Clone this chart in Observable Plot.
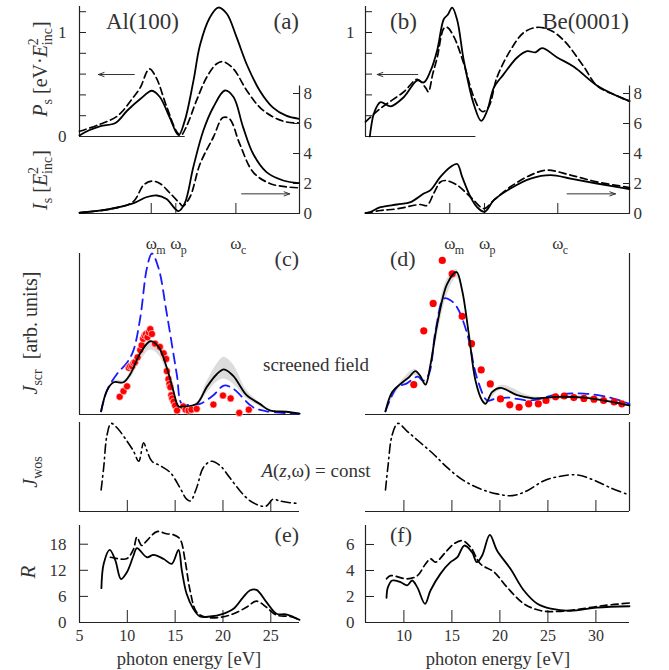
<!DOCTYPE html>
<html><head><meta charset="utf-8">
<script src="https://cdn.jsdelivr.net/npm/d3@7"></script>
<script src="https://cdn.jsdelivr.net/npm/@observablehq/plot@0.6"></script>
<style>
body{margin:0;background:#fff}
#chart{position:relative;width:669px;height:670px;font-family:"Liberation Serif",serif}
</style>
</head><body><div id="chart"></div>
<script>
// ---------------- DATA ----------------
// (a) Al(100): P_s solid / dashed
const pAlSolidX = [5.0, 6.0, 7.2, 8.75, 10.0, 11.35, 12.57, 13.4, 14.4, 15.35, 16.0, 16.9, 17.6, 18.6, 19.5, 20.4, 21.4, 22.5, 23.85, 25.2, 26.6, 27.95];
const pAlSolidY = [0.01, 0.06, 0.1, 0.13, 0.25, 0.36, 0.44, 0.38, 0.19, 0.013, 0.15, 0.53, 0.88, 1.14, 1.24, 1.18, 0.96, 0.69, 0.44, 0.28, 0.2, 0.17];
const pAlDashX = [5.0, 7.2, 9.0, 10.65, 11.35, 12.3, 13.0, 14.1, 15.2, 15.6, 16.2, 17.25, 18.3, 19.35, 20.0, 21.1, 22.5, 23.85, 25.2, 26.6, 27.95];
const pAlDashY = [0.05, 0.12, 0.2, 0.38, 0.47, 0.65, 0.57, 0.29, 0.04, 0.01, 0.1, 0.35, 0.57, 0.7, 0.72, 0.65, 0.44, 0.28, 0.19, 0.14, 0.13];
// (a) Al(100): I_s solid / dashed
const iAlSolidX = [5.0, 6.5, 8.2, 10.6, 12.05, 13.1, 14.1, 15.35, 16.0, 16.9, 17.95, 19.0, 20.2, 21.1, 22.1, 23.15, 24.55, 26.3, 27.95];
const iAlSolidY = [0.05, 0.15, 0.3, 0.67, 1.1, 1.2, 0.96, 0.16, 0.67, 3.1, 5.53, 7.1, 8.2, 7.76, 5.76, 3.98, 2.76, 2.2, 2.02];
const iAlDashX = [5.0, 8.2, 10.6, 11.7, 12.57, 13.4, 14.4, 15.5, 15.8, 16.55, 17.6, 19.0, 20.0, 20.7, 21.75, 23.15, 24.9, 26.6, 27.95];
const iAlDashY = [0.05, 0.3, 0.78, 1.9, 2.16, 2.0, 1.4, 0.67, 0.5, 1.1, 3.3, 5.1, 6.4, 6.3, 4.64, 2.76, 2.0, 1.78, 1.71];
// (b) Be(0001): P_s
const pBeSolidX = [6.45, 6.6, 6.87, 7.56, 8.6, 10.0, 11.4, 12.07, 12.77, 13.47, 14.16, 14.57, 15.03, 15.55, 16.24, 17.28, 18.05, 18.68, 19.37, 20.4, 21.8, 22.84, 23.7, 24.4, 25.97, 27.7, 30.1, 32.2, 33.5];
const pBeSolidY = [0, 0.1, 0.22, 0.33, 0.29, 0.38, 0.54, 0.52, 0.63, 0.83, 1.13, 1.17, 1.24, 1.12, 0.73, 0.31, 0.15, 0.25, 0.47, 0.6, 0.76, 0.82, 0.81, 0.85, 0.76, 0.67, 0.49, 0.39, 0.34];
const pBeDashX = [6.0, 7.56, 10.0, 11.4, 12.25, 12.55, 13.0, 13.47, 14.16, 14.5, 15.2, 16.24, 17.28, 18.15, 18.8, 19.7, 21.1, 22.5, 23.9, 25.3, 26.7, 28.75, 30.1, 32.2, 33.5];
const pBeDashY = [0.14, 0.27, 0.43, 0.55, 0.47, 0.43, 0.6, 0.76, 1.04, 1.05, 0.96, 0.7, 0.38, 0.24, 0.28, 0.57, 0.83, 1.0, 1.05, 1.02, 0.92, 0.67, 0.49, 0.39, 0.34];
// (b) Be(0001): I_s
const iBeSolidX = [6.0, 6.5, 7.56, 9.3, 10.7, 12.07, 12.77, 13.8, 14.85, 15.55, 16.07, 16.94, 17.6, 18.4, 19.37, 21.1, 23.2, 25.3, 27.35, 30.1, 33.5];
const iBeSolidY = [0.02, 0.1, 0.42, 0.6, 0.76, 1.33, 1.56, 2.44, 3.1, 3.3, 2.44, 1.1, 0.44, 0.11, 0.89, 1.67, 2.33, 2.56, 2.33, 2.0, 1.62];
const iBeDashX = [6.0, 7.56, 9.3, 11.7, 12.4, 13.1, 13.8, 14.33, 15.55, 16.94, 18.35, 19.37, 21.1, 23.2, 24.9, 27.35, 30.1, 33.5];
const iBeDashY = [0.02, 0.2, 0.31, 0.6, 0.53, 1.33, 2.1, 2.2, 1.89, 1.1, 0.33, 0.89, 1.78, 2.56, 2.89, 2.56, 2.11, 1.73];
// characteristic energies (tick positions)
const omegaNames = ["m", "p", "c"];
const omegaAl = [12.5, 15.07, 21.35];
const omegaBe = [14.78, 18.4, 26.03];

// (c) Al J_scr
const jAlSolidX = [7.26, 7.88, 8.57, 9.6, 10.3, 11.35, 12.4, 13.26, 14.13, 14.8, 15.35, 15.8, 17.25, 18.3, 19.35, 20.1, 21.07, 22.47, 23.85, 24.9, 26.6, 28];
const jAlSolidY = [0.02, 0.15, 0.2, 0.2, 0.25, 0.38, 0.455, 0.42, 0.29, 0.15, 0.05, 0.05, 0.066, 0.17, 0.25, 0.28, 0.24, 0.12, 0.066, 0.025, 0.017, 0.005];
const jAlBlueX = [7.26, 7.88, 8.9, 10.0, 10.65, 11.35, 12.05, 12.57, 13.26, 14.13, 15.17, 15.7, 16.5, 17.6, 19.0, 20.1, 21.07, 23.15, 24.55, 28];
const jAlBlueY = [0.02, 0.15, 0.25, 0.325, 0.4, 0.6, 0.91, 1.0, 0.91, 0.625, 0.25, 0.066, 0.06, 0.066, 0.12, 0.18, 0.16, 0.045, 0.02, 0.005];
const jAlBandX = [7.26, 8.57, 9.6, 10.3, 11.35, 12.4, 13.26, 14.13, 14.8, 15.35, 17.25, 18.3, 19.35, 20.1, 21.07, 22.47, 23.85, 24.9, 28];
const jAlBandLo = [0.02, 0.19, 0.19, 0.22, 0.33, 0.4, 0.37, 0.26, 0.13, 0.04, 0.05, 0.13, 0.2, 0.22, 0.19, 0.1, 0.05, 0.02, 0.005];
const jAlBandHi = [0.02, 0.21, 0.21, 0.26, 0.39, 0.46, 0.43, 0.3, 0.16, 0.055, 0.075, 0.2, 0.31, 0.355, 0.31, 0.15, 0.075, 0.03, 0.005];
const jAlExpX = [9.2, 9.6, 9.97, 10.15, 10.3, 10.5, 10.65, 10.8, 11.07, 11.35, 11.5, 11.65, 11.8, 11.95, 12.1, 12.25, 12.4, 12.57, 12.9, 13.4, 13.8, 14.06, 14.13, 14.3, 14.4, 14.5, 14.6, 14.7, 14.85, 15.0, 15.2, 15.85, 16.1, 16.4, 16.7, 17.25, 19.0, 20.0, 20.8, 21.7, 22.7];
const jAlExpY = [0.11, 0.145, 0.175, 0.29, 0.3, 0.3, 0.32, 0.325, 0.355, 0.4, 0.43, 0.47, 0.49, 0.5, 0.48, 0.51, 0.53, 0.5, 0.44, 0.42, 0.38, 0.345, 0.27, 0.22, 0.19, 0.17, 0.12, 0.1, 0.08, 0.056, 0.025, 0.05, 0.03, 0.025, 0.03, 0.035, 0.062, 0.118, 0.1, 0.01, 0.03];

// (d) Be J_scr
const jBeSolidX = [8.08, 8.78, 9.65, 10.5, 11.2, 11.7, 12.25, 12.77, 13.47, 14.5, 15.48, 16.07, 16.76, 17.46, 18.15, 18.5, 19.2, 20.06, 21.8, 23.5, 25.97, 28.75, 31.5, 33.5];
const jBeSolidY = [0.02, 0.14, 0.19, 0.23, 0.27, 0.24, 0.185, 0.31, 0.56, 0.81, 0.885, 0.77, 0.5, 0.21, 0.087, 0.066, 0.14, 0.165, 0.12, 0.1, 0.11, 0.105, 0.08, 0.056];
const jBeBlueX = [8.08, 9.3, 10.2, 11.45, 12.0, 12.6, 13.3, 14.16, 14.85, 15.55, 16.6, 17.6, 18.68, 19.37, 20.76, 23.2, 25.97, 28.75, 31.5, 33.5];
const jBeBlueY = [0.02, 0.17, 0.19, 0.235, 0.21, 0.25, 0.52, 0.72, 0.71, 0.665, 0.5, 0.23, 0.087, 0.095, 0.105, 0.087, 0.124, 0.13, 0.105, 0.066];
const jBeBandX = [8.08, 9.65, 11.2, 12.25, 12.77, 13.47, 14.5, 15.48, 16.07, 16.76, 17.46, 18.5, 20.06, 23.5, 28.75, 33.5];
const jBeBandLo = [0.02, 0.17, 0.24, 0.18, 0.27, 0.48, 0.74, 0.85, 0.76, 0.5, 0.21, 0.07, 0.15, 0.09, 0.1, 0.05];
const jBeBandHi = [0.02, 0.2, 0.28, 0.2, 0.33, 0.6, 0.84, 0.9, 0.8, 0.52, 0.23, 0.08, 0.18, 0.11, 0.115, 0.06];
const jBeExpX = [11.03, 12.07, 13.05, 14.0, 15.03, 16.07, 17.04, 18.05, 19.0, 20.06, 21.03, 22.0, 23.0, 24.0, 24.8, 25.8, 26.7, 27.7, 28.75, 29.8, 30.8, 31.9, 32.7];
const jBeExpY = [0.186, 0.52, 0.69, 0.957, 0.874, 0.61, 0.44, 0.277, 0.19, 0.097, 0.06, 0.045, 0.066, 0.066, 0.087, 0.11, 0.115, 0.105, 0.1, 0.095, 0.087, 0.078, 0.066];

// J_wos (A = const)
const wAlX = [7.26, 7.53, 7.88, 8.3, 8.92, 9.96, 10.65, 11.2, 11.7, 12.05, 12.57, 13.44, 14.5, 15.5, 16.2, 16.6, 17.25, 17.95, 18.8, 19.7, 20.7, 21.77, 22.8, 23.85, 24.5, 25.24, 25.9, 27.0, 28];
const wAlY = [0.244, 0.5, 0.87, 1.0, 0.95, 0.8, 0.685, 0.57, 0.78, 0.69, 0.57, 0.52, 0.44, 0.27, 0.14, 0.12, 0.27, 0.5, 0.57, 0.52, 0.385, 0.236, 0.124, 0.067, 0.06, 0.14, 0.12, 0.1, 0.09];
const wBeX = [8.08, 8.33, 8.78, 9.37, 10.34, 11.73, 13.1, 14.5, 16.24, 18.0, 19.7, 21.3, 22.85, 24.6, 26.3, 28.05, 29.8, 31.5, 33.4];
const wBeY = [0.244, 0.5, 0.87, 1.0, 0.91, 0.78, 0.65, 0.5, 0.35, 0.255, 0.2, 0.18, 0.236, 0.35, 0.4, 0.415, 0.355, 0.27, 0.19];

// (e) Al R
const rAlSolidX = [7.29, 7.53, 8.16, 8.75, 9.34, 9.97, 10.65, 11.0, 12.05, 12.74, 13.8, 14.65, 15.35, 15.7, 16.2, 16.9, 17.6, 18.65, 20.0, 21.1, 22.1, 22.8, 23.5, 24.55, 25.6, 26.6, 28];
const rAlSolidY = [7.9, 13.5, 16.7, 14.25, 10.0, 11.6, 15.4, 17.1, 15.0, 15.55, 14.6, 13.5, 16.7, 11.95, 6.6, 3.15, 1.38, 1.38, 2.0, 3.15, 5.8, 7.35, 7.5, 4.67, 2.0, 1.85, 0.6];
const rAlDashX = [8.23, 8.96, 9.97, 10.65, 11.0, 11.5, 12.05, 13.1, 14.1, 14.8, 15.5, 16.04, 16.56, 17.25, 18.3, 19.7, 21.1, 22.45, 23.5, 24.55, 25.6, 27.0, 28];
const rAlDashY = [15.0, 14.7, 14.7, 16.9, 19.6, 17.7, 18.85, 20.9, 20.4, 20.2, 19.2, 14.25, 7.35, 2.37, 1.2, 1.2, 2.0, 3.5, 4.9, 3.5, 1.7, 1.38, 0.6];
// (f) Be R
const rBeSolidX = [8.19, 8.33, 8.78, 9.65, 10.34, 10.86, 11.4, 12.2, 12.77, 13.8, 14.85, 15.55, 16.3, 17.1, 17.6, 18.15, 18.95, 19.7, 21.1, 22.5, 23.9, 25.3, 27.35, 30.1, 33.5];
const rBeSolidY = [1.9, 2.7, 3.23, 3.1, 2.85, 3.23, 2.7, 1.44, 2.46, 3.74, 4.64, 5.0, 5.92, 5.4, 4.64, 5.15, 6.74, 5.54, 4.13, 2.46, 1.44, 1.06, 0.9, 1.15, 1.25];
const rBeDashX = [8.19, 8.6, 10.34, 11.4, 12.25, 12.77, 13.3, 14.33, 15.2, 16.07, 16.94, 17.98, 19.37, 20.76, 22.5, 24.2, 25.97, 28.05, 30.8, 33.5];
const rBeDashY = [3.36, 3.6, 3.36, 3.6, 4.5, 4.9, 4.64, 5.4, 6.05, 6.3, 5.8, 4.5, 3.9, 2.7, 1.44, 0.92, 0.85, 1.0, 1.3, 1.5];

// axis ticks
const pTicks = [0, 0.2, 0.4, 0.6, 0.8, 1.0, 1.2];
const iTicks = [0, 2, 4, 6, 8];
const rAlTicks = [0, 6, 12, 18];
const rBeTicks = [0, 2, 4, 6];
const eAlTicks = [5, 10, 15, 20, 25];
const eBeTicks = [10, 15, 20, 25, 30];

// arrows  (tail -> head)
const arrowPAl = [{x1: 10.73, x2: 6.98, y: 0.596}];
const arrowIAl = [{x1: 21.95, x2: 26.98, y: 1.31}];
const arrowPBe = [{x1: 11.45, x2: 7.22, y: 0.596}];
const arrowIBe = [{x1: 27.0, x2: 32.04, y: 1.31}];

// ---------------- LAYOUT ----------------
const W = 669, H = 670;
const FONT = '"Liberation Serif", "DejaVu Serif", serif';
const INK = "#333";
const chart = document.getElementById("chart");
const xDomAl = [5, 28], xDomBe = [6, 33.5];
const colAl = [79, 299], colBe = [365, 629];
const rowP = [6, 136], rowI = [85.5, 213], rowJ = [253, 414], rowW = [422, 511], rowR = [525, 622];
const pBaseEndAl = 16.05, pBaseEndBe = 17.5;

const pts = (xs, ys) => xs.map((x, i) => ({x, y: ys[i]}));
const band = (xs, lo, hi) => xs.map((x, i) => ({x, lo: lo[i], hi: hi[i]}));

function panel(col, row, xdom, ydom, marks) {
  const svg = Plot.plot({
    width: W, height: H,
    marginLeft: col[0], marginRight: W - col[1], marginTop: row[0], marginBottom: H - row[1],
    x: {domain: xdom, axis: null, label: null},
    y: {domain: ydom, axis: null, label: null},
    style: {background: "transparent", fontFamily: FONT, fontSize: "17px", color: INK, overflow: "visible"},
    marks
  });
  Object.assign(svg.style, {position: "absolute", left: "0px", top: "0px"});
  chart.append(svg);
}
const AX = {stroke: "#222", strokeWidth: 1.2};
const solid = (d) => Plot.line(d, {x: "x", y: "y", curve: "catmull-rom", stroke: "#000", strokeWidth: 1.8});
const dashed = (d) => Plot.line(d, {x: "x", y: "y", curve: "catmull-rom", stroke: "#000", strokeWidth: 1.7, strokeDasharray: "7,4"});
const blue = (d) => Plot.line(d, {x: "x", y: "y", curve: "catmull-rom", stroke: "#1a1aff", strokeWidth: 1.8, strokeDasharray: "10,6"});
const dashdot = (d) => Plot.line(d, {x: "x", y: "y", curve: "catmull-rom", stroke: "#000", strokeWidth: 1.6, strokeDasharray: "9,4,1.5,4"});
const arrow = (d) => Plot.arrow(d, {x1: "x1", x2: "x2", y1: "y", y2: "y", stroke: INK, strokeWidth: 1, headLength: 9, headAngle: 40});
const omegaMarks = (vals) => [
  Plot.axisX({ticks: vals, tickSize: -10, tickFormat: () => "", label: null, stroke: "#222"}),
  Plot.text(vals, {x: d => d, frameAnchor: "bottom", text: () => "ω", dy: 35, lineAnchor: "bottom", fontSize: 17, fill: INK}),
  Plot.text(vals, {x: d => d, frameAnchor: "bottom", text: (d, i) => omegaNames[i], dy: 40, dx: 5, textAnchor: "start", lineAnchor: "bottom", fontSize: 12, fill: INK})
];

// ---- (a) P_s
panel(colAl, rowP, xDomAl, [0, 1.25], [
  Plot.ruleX([xDomAl[0]], AX),
  Plot.ruleY([0], {...AX, x1: xDomAl[0], x2: pBaseEndAl}),
  Plot.axisY({ticks: pTicks, tickSize: -7, tickPadding: 20, tickFormat: d => (d === 0 || d === 1) ? String(d) : "", label: null, stroke: "#222"}),
  dashed(pts(pAlDashX, pAlDashY)),
  solid(pts(pAlSolidX, pAlSolidY)),
  arrow(arrowPAl)
]);
// ---- (a) I_s
panel(colAl, rowI, xDomAl, [0, 8.5], [
  Plot.ruleX([xDomAl[1]], AX),
  Plot.ruleY([0], AX),
  Plot.axisY({anchor: "right", ticks: iTicks, tickSize: -7, tickPadding: 11, label: null, stroke: "#222"}),
  ...omegaMarks(omegaAl),
  dashed(pts(iAlDashX, iAlDashY)),
  solid(pts(iAlSolidX, iAlSolidY)),
  arrow(arrowIAl)
]);
// ---- (b) P_s
panel(colBe, rowP, xDomBe, [0, 1.25], [
  Plot.ruleX([xDomBe[0]], AX),
  Plot.ruleY([0], {...AX, x1: xDomBe[0], x2: pBaseEndBe}),
  Plot.axisY({ticks: pTicks, tickSize: -7, tickPadding: 18, tickFormat: d => d === 1 ? "1" : "", label: null, stroke: "#222"}),
  dashed(pts(pBeDashX, pBeDashY)),
  solid(pts(pBeSolidX, pBeSolidY)),
  arrow(arrowPBe)
]);
// ---- (b) I_s
panel(colBe, rowI, xDomBe, [0, 8.5], [
  Plot.ruleX([xDomBe[1]], AX),
  Plot.ruleY([0], AX),
  Plot.axisY({anchor: "right", ticks: iTicks, tickSize: -7, tickPadding: 11, label: null, stroke: "#222"}),
  ...omegaMarks(omegaBe),
  dashed(pts(iBeDashX, iBeDashY)),
  solid(pts(iBeSolidX, iBeSolidY)),
  arrow(arrowIBe)
]);
// ---- (c)
panel(colAl, rowJ, xDomAl, [0, 1], [
  Plot.areaY(band(jAlBandX, jAlBandLo, jAlBandHi), {x: "x", y1: "lo", y2: "hi", curve: "catmull-rom", fill: "#dcdcdc"}),
  Plot.ruleX([xDomAl[0]], AX),
  Plot.ruleY([0], AX),
  blue(pts(jAlBlueX, jAlBlueY)),
  Plot.dot(pts(jAlExpX, jAlExpY), {x: "x", y: "y", r: 3.6, fill: "#ff0000", stroke: "#fff", strokeWidth: 0.6}),
  solid(pts(jAlSolidX, jAlSolidY))
]);
// ---- (d)
panel(colBe, rowJ, xDomBe, [0, 1], [
  Plot.areaY(band(jBeBandX, jBeBandLo, jBeBandHi), {x: "x", y1: "lo", y2: "hi", curve: "catmull-rom", fill: "#dcdcdc"}),
  Plot.ruleX([xDomBe[1]], AX),
  Plot.ruleY([0], AX),
  blue(pts(jBeBlueX, jBeBlueY)),
  Plot.dot(pts(jBeExpX, jBeExpY), {x: "x", y: "y", r: 3.6, fill: "#ff0000"}),
  solid(pts(jBeSolidX, jBeSolidY))
]);
// ---- J_wos
panel(colAl, rowW, xDomAl, [0, 1.01], [
  Plot.ruleX([xDomAl[0]], AX),
  Plot.ruleY([0], AX),
  Plot.axisX({ticks: [10, 15, 20, 25], tickSize: -11, tickFormat: () => "", label: null, stroke: "#222"}),
  dashdot(pts(wAlX, wAlY))
]);
panel(colBe, rowW, xDomBe, [0, 1.01], [
  Plot.ruleX([xDomBe[1]], AX),
  Plot.ruleY([0], AX),
  Plot.axisX({ticks: eBeTicks, tickSize: -11, tickFormat: () => "", label: null, stroke: "#222"}),
  dashdot(pts(wBeX, wBeY))
]);
// ---- (e)
panel(colAl, rowR, xDomAl, [0, 22.3], [
  Plot.ruleX([xDomAl[0]], AX),
  Plot.ruleY([0], AX),
  Plot.axisY({ticks: rAlTicks, tickSize: -9, tickPadding: 22, label: null, stroke: "#222"}),
  Plot.axisX({ticks: eAlTicks, tickSize: -12, tickPadding: 19, fontSize: 16, label: null, stroke: "#222"}),
  dashed(pts(rAlDashX, rAlDashY)),
  solid(pts(rAlSolidX, rAlSolidY))
]);
// ---- (f)
panel(colBe, rowR, xDomBe, [0, 7.46], [
  Plot.ruleX([xDomBe[0]], AX),
  Plot.ruleY([0], AX),
  Plot.axisY({ticks: rBeTicks, tickSize: -9, tickPadding: 20, label: null, stroke: "#222"}),
  Plot.axisX({ticks: eBeTicks, tickSize: -12, tickPadding: 19, fontSize: 16, label: null, stroke: "#222"}),
  dashed(pts(rBeDashX, rBeDashY)),
  solid(pts(rBeSolidX, rBeSolidY))
]);

// ---------------- TEXT OVERLAY ----------------
const ov = d3.create("svg").attr("width", W).attr("height", H)
  .style("position", "absolute").style("left", "0px").style("top", "0px")
  .style("font-family", FONT).attr("fill", INK);
function label(x, y, s, size, anchor = "start") {
  return ov.append("text").attr("x", x).attr("y", y).attr("font-size", size).attr("text-anchor", anchor).text(s);
}
label(106, 29, "Al(100)", 23);
label(299, 29, "(a)", 23, "end");
label(390, 29, "(b)", 23);
label(629, 29, "Be(0001)", 23, "end");
label(299, 266, "(c)", 22, "end");
label(390, 266, "(d)", 22);
label(299, 542, "(e)", 22, "end");
label(390, 542, "(f)", 22);
label(316, 371, "screened field", 19, "middle");
{
  const t = ov.append("text").attr("x", 316).attr("y", 477).attr("font-size", 19).attr("text-anchor", "middle");
  t.append("tspan").attr("font-style", "italic").text("A");
  t.append("tspan").text("(");
  t.append("tspan").attr("font-style", "italic").text("z");
  t.append("tspan").text(",ω) = const");
}
label(189, 665, "photon energy [eV]", 18.5, "middle");
label(498, 665, "photon energy [eV]", 18.5, "middle");

function vtitle(x, y, size) {
  return ov.append("text").attr("transform", `translate(${x},${y}) rotate(-90)`).attr("font-size", size).attr("text-anchor", "middle");
}
{
  const t = vtitle(47, 69, 20);
  t.append("tspan").attr("font-style", "italic").text("P");
  t.append("tspan").attr("dy", 5).attr("font-size", 14).text("s");
  t.append("tspan").attr("dy", -5).text(" [eV·");
  t.append("tspan").attr("font-style", "italic").text("E");
  t.append("tspan").attr("dy", -9).attr("font-size", 14).text("2");
  t.append("tspan").attr("dy", 14).attr("dx", -7).attr("font-size", 14).text("inc");
  t.append("tspan").attr("dy", -5).text("]");
}
{
  const t = vtitle(47, 180, 20);
  t.append("tspan").attr("font-style", "italic").text("I");
  t.append("tspan").attr("dy", 5).attr("font-size", 14).text("s");
  t.append("tspan").attr("dy", -5).text(" [");
  t.append("tspan").attr("font-style", "italic").text("E");
  t.append("tspan").attr("dy", -9).attr("font-size", 14).text("2");
  t.append("tspan").attr("dy", 14).attr("dx", -7).attr("font-size", 14).text("inc");
  t.append("tspan").attr("dy", -5).text("]");
}
{
  const t = vtitle(37, 333, 20);
  t.append("tspan").attr("font-style", "italic").text("J");
  t.append("tspan").attr("dy", 5).attr("font-size", 14).text("scr");
  t.append("tspan").attr("dy", -5).attr("dx", 10).text("[arb. units]");
}
{
  const t = vtitle(37, 472, 20);
  t.append("tspan").attr("font-style", "italic").text("J");
  t.append("tspan").attr("dy", 5).attr("font-size", 14).text("wos");
}
{
  const t = vtitle(35, 572, 21);
  t.append("tspan").attr("font-style", "italic").text("R");
}
chart.append(ov.node());
</script>
</body></html>
